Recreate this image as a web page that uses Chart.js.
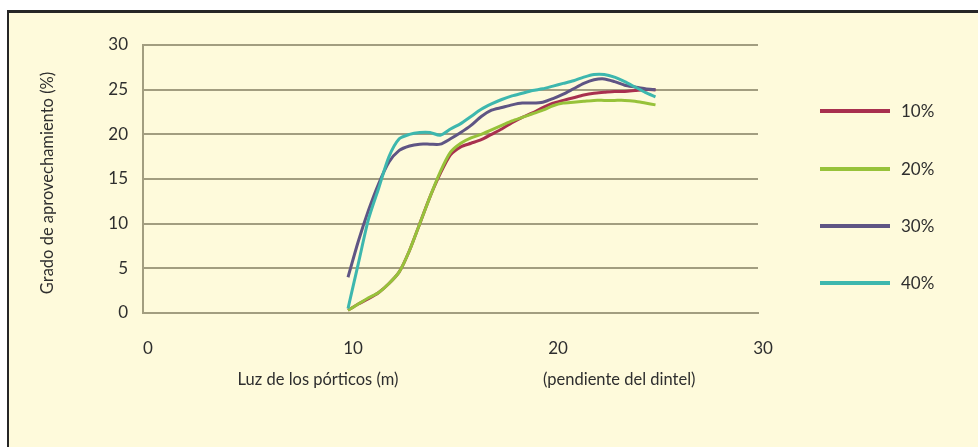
<!DOCTYPE html>
<html>
<head>
<meta charset="utf-8">
<script src="https://cdn.jsdelivr.net/npm/chart.js@4/dist/chart.umd.min.js"></script>
<style>
  html, body { margin: 0; padding: 0; background: #ffffff; }
  #frame { position: absolute; left: 7px; top: 10px; width: 971px; height: 437px;
           border-top: 3px solid #262626; border-left: 2px solid #262626;
           background: #fefadb; box-sizing: border-box; }
  #wrap { position: absolute; left: 0; top: 0; width: 978px; height: 447px; }
</style>
</head>
<body>
<div id="frame"></div>
<div id="wrap"><canvas id="c" width="978" height="447"></canvas></div>
<script>
const xValues = [10, 10.5, 11, 11.5, 12, 12.5, 13, 13.5, 14, 14.5, 15, 15.5, 16, 16.5, 17, 17.5, 18, 18.5, 19, 19.5, 20, 20.5, 21, 21.5, 22, 22.5, 23, 23.5, 24, 24.5, 25];
const seriesNames = ["10%", "20%", "30%", "40%"];
const s10 = [0.3, 1.0, 1.6, 2.3, 3.3, 4.6, 7.0, 10.0, 13.0, 15.6, 17.7, 18.6, 19.0, 19.4, 20.0, 20.6, 21.3, 21.9, 22.4, 23.0, 23.5, 23.8, 24.1, 24.4, 24.6, 24.7, 24.8, 24.8, 24.9, 25.0, 25.0];
const s20 = [0.3, 1.0, 1.7, 2.3, 3.3, 4.6, 7.0, 10.0, 13.0, 15.8, 18.0, 19.0, 19.6, 20.0, 20.5, 21.0, 21.5, 21.9, 22.3, 22.7, 23.2, 23.5, 23.6, 23.7, 23.8, 23.8, 23.8, 23.8, 23.7, 23.5, 23.3];
const s30 = [4.0, 8.0, 11.5, 14.5, 16.9, 18.2, 18.7, 18.9, 18.9, 18.9, 19.5, 20.2, 21.0, 22.0, 22.7, 23.0, 23.3, 23.5, 23.5, 23.6, 24.0, 24.5, 25.1, 25.7, 26.1, 26.2, 25.9, 25.5, 25.3, 25.1, 25.0];
const s40 = [0.5, 5.5, 10.5, 14.0, 17.5, 19.5, 20.0, 20.2, 20.2, 19.9, 20.6, 21.2, 22.0, 22.8, 23.4, 23.9, 24.3, 24.6, 24.9, 25.1, 25.4, 25.7, 26.0, 26.4, 26.7, 26.7, 26.4, 25.9, 25.3, 24.7, 24.2];
const xTicks = [0, 10, 20, 30];
const yTicks = [0, 5, 10, 15, 20, 25, 30];
const yTitle = "Grado de aprovechamiento (%)";
const xTitle = "Luz de los pórticos (m)";
const xNote = "(pendiente del dintel)";

const colors = ["#a8304f", "#97c23a", "#5f5584", "#3db7ae"];
const seriesData = [s10, s20, s30, s40];

const FONT = "Lato, 'Open Sans', sans-serif";
const TEXT = "#2e2e2e";
const GRID = "#a29d80";

const datasets = seriesData.map((arr, i) => ({
  label: seriesNames[i],
  data: arr.map((v, j) => ({ x: xValues[j], y: v })),
  borderColor: colors[i],
  backgroundColor: colors[i],
  borderWidth: 3,
  pointRadius: 0,
  tension: 0.25,
  fill: false,
  order: 4 - i
}));

const extras = {
  id: 'extras',
  afterDraw(chart) {
    const ctx = chart.ctx;
    ctx.save();
    ctx.fillStyle = TEXT;
    // y title
    ctx.font = "16.5px " + FONT;
    ctx.textAlign = "center";
    ctx.textBaseline = "middle";
    ctx.save();
    ctx.translate(48, 183);
    ctx.rotate(-Math.PI / 2);
    ctx.fillText(yTitle, 0, 0);
    ctx.restore();
    // x titles
    ctx.textAlign = "center";
    ctx.fillText(xTitle, 318, 380);
    ctx.textAlign = "left";
    ctx.fillText(xNote, 543, 380);
    // legend
    const ly = [111, 169, 226, 283];
    seriesNames.forEach((n, i) => {
      ctx.strokeStyle = colors[i];
      ctx.lineWidth = 4;
      ctx.beginPath();
      ctx.moveTo(820, ly[i]);
      ctx.lineTo(890, ly[i]);
      ctx.stroke();
      ctx.fillStyle = TEXT;
      ctx.font = "17px " + FONT;
      ctx.textAlign = "left";
      ctx.textBaseline = "middle";
      ctx.fillText(n, 901, ly[i] + 1);
    });
    ctx.restore();
  }
};

new Chart(document.getElementById('c'), {
  type: 'line',
  data: { datasets },
  plugins: [extras],
  options: {
    responsive: false,
    animation: false,
    layout: { padding: { left: 8, top: 45, right: 220, bottom: 0 } },
    plugins: { legend: { display: false }, tooltip: { enabled: false } },
    scales: {
      x: {
        type: 'linear', min: 0, max: 30,
        afterBuildTicks(scale) { scale.ticks = xTicks.map(v => ({ value: v })); },
        afterFit(scale) { scale.height = 134; },
        grid: { display: false, drawTicks: false },
        border: { display: true, color: GRID, width: 2 },
        ticks: { color: TEXT, font: { family: FONT, size: 17 }, padding: 25, labelOffset: 5, maxRotation: 0 }
      },
      y: {
        type: 'linear', min: 0, max: 30,
        afterBuildTicks(scale) { scale.ticks = yTicks.map(v => ({ value: v })); },
        afterFit(scale) { scale.width = 135; },
        grid: { display: true, color: GRID, lineWidth: 2, drawTicks: false },
        border: { display: true, color: GRID, width: 2 },
        ticks: { color: TEXT, font: { family: FONT, size: 17 }, padding: 15 }
      }
    }
  }
});
</script>
</body>
</html>
